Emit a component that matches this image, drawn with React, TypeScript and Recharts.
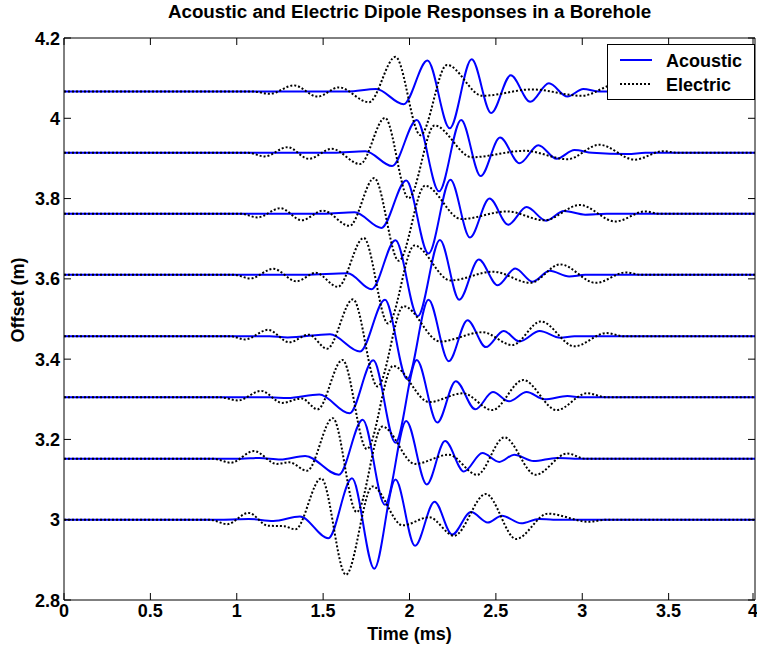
import { LineChart, Line, XAxis, YAxis, ReferenceLine, Legend } from 'recharts';

// receiver offsets (m), bottom trace first
const offsets = [3.0, 3.152, 3.305, 3.457, 3.61, 3.762, 3.914, 4.067];
const timeTicks = [0, 0.5, 1, 1.5, 2, 2.5, 3, 3.5, 4];
const offsetTicks = [2.8, 3, 3.2, 3.4, 3.6, 3.8, 4, 4.2];

// [time (ms), amplitude about the trace offset], read at the peaks / troughs
const acoustic1 = [[0, 0], [0.925, 0], [1.068, 0.002], [1.212, -0.003], [1.366, 0.008], [1.53, -0.046], [1.667, 0.103], [1.796, -0.122], [1.919, 0.1], [2.032, -0.065], [2.145, 0.045], [2.247, -0.037], [2.356, 0.019], [2.453, -0.007], [2.535, 0.01], [2.647, -0.009], [2.75, 0.002], [2.832, 0], [4, 0]];
const acoustic2 = [[0, 0], [1.027, 0], [1.13, 0.002], [1.253, -0.002], [1.396, 0.007], [1.591, -0.04], [1.729, 0.097], [1.858, -0.115], [1.981, 0.094], [2.1, -0.064], [2.206, 0.044], [2.315, -0.032], [2.422, 0.014], [2.52, -0.008], [2.606, 0.01], [2.719, -0.006], [2.852, 0.002], [2.955, 0], [4, 0]];
const acoustic3 = [[0, 0], [1.191, 0], [1.294, -0.002], [1.478, 0.007], [1.653, -0.04], [1.79, 0.092], [1.919, -0.113], [2.042, 0.093], [2.161, -0.063], [2.268, 0.04], [2.381, -0.03], [2.483, 0.013], [2.576, -0.01], [2.678, 0.013], [2.781, -0.005], [2.914, 0.003], [2.996, 0], [4, 0]];
const acoustic4 = [[0, 0], [1.191, 0], [1.294, -0.003], [1.54, 0.005], [1.714, -0.038], [1.858, 0.091], [1.987, -0.107], [2.11, 0.091], [2.227, -0.062], [2.336, 0.04], [2.442, -0.027], [2.545, 0.013], [2.637, -0.013], [2.754, 0.013], [2.873, -0.004], [2.955, 0], [4, 0]];
const acoustic5 = [[0, 0], [1.396, 0], [1.642, 0.004], [1.78, -0.036], [1.919, 0.086], [2.048, -0.103], [2.176, 0.087], [2.288, -0.062], [2.401, 0.038], [2.51, -0.026], [2.612, 0.016], [2.713, -0.017], [2.811, 0.01], [2.924, -0.004], [3.017, 0], [4, 0]];
const acoustic6 = [[0, 0], [1.499, 0], [1.683, 0.004], [1.837, -0.035], [1.981, 0.083], [2.11, -0.099], [2.237, 0.085], [2.35, -0.059], [2.463, 0.038], [2.571, -0.027], [2.678, 0.017], [2.791, -0.017], [2.894, 0.007], [3.017, -0.002], [3.14, 0], [4, 0]];
const acoustic7 = [[0, 0], [1.56, 0], [1.745, 0.004], [1.899, -0.033], [2.042, 0.082], [2.171, -0.096], [2.299, 0.082], [2.412, -0.058], [2.524, 0.038], [2.637, -0.026], [2.746, 0.019], [2.852, -0.015], [2.955, 0.007], [3.058, 0], [3.263, -0.003], [3.365, 0], [4, 0]];
const acoustic8 = [[0, 0], [1.642, 0], [1.807, 0.006], [1.966, -0.032], [2.104, 0.077], [2.233, -0.092], [2.36, 0.08], [2.473, -0.054], [2.586, 0.04], [2.699, -0.026], [2.807, 0.02], [2.914, -0.013], [3.006, 0.006], [3.099, 0], [4, 0]];

const electric1 = [[0, 0], [0.843, 0], [0.945, -0.011], [1.068, 0.017], [1.181, -0.015], [1.273, -0.016], [1.339, -0.024], [1.489, 0.103], [1.632, -0.137], [1.786, 0.083], [1.96, -0.014], [2.114, 0.006], [2.258, -0.04], [2.442, 0.064], [2.617, -0.048], [2.801, 0.015], [3.037, -0.005], [3.14, 0], [4, 0]];
const electric2 = [[0, 0], [0.863, 0], [0.966, -0.01], [1.099, 0.019], [1.232, -0.013], [1.304, -0.009], [1.407, -0.03], [1.556, 0.101], [1.694, -0.133], [1.843, 0.08], [2.032, -0.013], [2.227, 0.01], [2.391, -0.04], [2.549, 0.053], [2.729, -0.04], [2.914, 0.013], [3.017, 0], [4, 0]];
const electric3 = [[0, 0], [0.904, 0], [1.007, -0.008], [1.14, 0.016], [1.263, -0.014], [1.376, -0.003], [1.468, -0.03], [1.612, 0.093], [1.753, -0.129], [1.905, 0.078], [2.114, -0.012], [2.309, 0.01], [2.479, -0.032], [2.658, 0.043], [2.852, -0.032], [3.027, 0.01], [3.14, 0], [4, 0]];
const electric4 = [[0, 0], [0.966, 0], [1.048, -0.008], [1.181, 0.016], [1.304, -0.015], [1.417, 0.004], [1.523, -0.031], [1.673, 0.092], [1.815, -0.125], [1.966, 0.075], [2.176, -0.013], [2.422, 0.01], [2.596, -0.022], [2.76, 0.037], [2.955, -0.025], [3.14, 0.008], [3.242, 0], [4, 0]];
const electric5 = [[0, 0], [0.986, 0], [1.078, -0.009], [1.212, 0.015], [1.345, -0.016], [1.458, 0.005], [1.585, -0.03], [1.735, 0.092], [1.876, -0.121], [2.028, 0.073], [2.237, -0.014], [2.483, 0.008], [2.699, -0.02], [2.873, 0.026], [3.078, -0.02], [3.252, 0.006], [3.345, 0], [4, 0]];
const electric6 = [[0, 0], [1.027, 0], [1.119, -0.009], [1.253, 0.014], [1.376, -0.016], [1.499, 0.008], [1.653, -0.03], [1.796, 0.089], [1.938, -0.117], [2.09, 0.07], [2.299, -0.013], [2.565, 0.006], [2.781, -0.016], [2.986, 0.022], [3.191, -0.019], [3.365, 0.006], [3.447, 0], [4, 0]];
const electric7 = [[0, 0], [1.068, 0], [1.16, -0.009], [1.294, 0.014], [1.417, -0.015], [1.55, 0.01], [1.714, -0.028], [1.858, 0.087], [1.995, -0.113], [2.145, 0.068], [2.36, -0.011], [2.668, 0.005], [2.914, -0.016], [3.099, 0.02], [3.304, -0.017], [3.468, 0.004], [3.55, 0], [4, 0]];
const electric8 = [[0, 0], [1.089, 0], [1.191, -0.006], [1.331, 0.015], [1.468, -0.013], [1.591, 0.01], [1.765, -0.027], [1.919, 0.086], [2.063, -0.109], [2.217, 0.066], [2.422, -0.011], [2.709, 0.005], [2.996, -0.011], [3.201, 0.018], [3.417, -0.017], [3.53, 0], [4, 0]];

const acousticTraces = [acoustic1, acoustic2, acoustic3, acoustic4, acoustic5, acoustic6, acoustic7, acoustic8];
const electricTraces = [electric1, electric2, electric3, electric4, electric5, electric6, electric7, electric8];

const FONT = '"Liberation Sans", Arial, Helvetica, sans-serif';
const PLOT_W = 691;
const PLOT_H = 562;
const TICK = 7;

const toRows = (pts: number[][], base: number) => pts.map(([t, a]) => ({ t, y: base + a }));

function TimeTick(props: any) {
  const { x, y, payload } = props;
  return (
    <g>
      <line x1={x} x2={x} y1={y} y2={y - TICK} stroke="#000" />
      <line x1={x} x2={x} y1={y - PLOT_H} y2={y - PLOT_H + TICK} stroke="#000" />
      <text x={x} y={y + 17} textAnchor="middle" fontFamily={FONT} fontWeight="bold" fontSize={18} fill="#000">
        {payload.value}
      </text>
    </g>
  );
}

function OffsetTick(props: any) {
  const { x, y, payload } = props;
  return (
    <g>
      <line x1={x} x2={x + TICK} y1={y} y2={y} stroke="#000" />
      <line x1={x + PLOT_W - TICK} x2={x + PLOT_W} y1={y} y2={y} stroke="#000" />
      <text x={x - 4} y={y + 6.5} textAnchor="end" fontFamily={FONT} fontWeight="bold" fontSize={18} fill="#000">
        {payload.value}
      </text>
    </g>
  );
}

const renderLegend = () => (
  <svg width={148} height={56} style={{ display: 'block' }}>
    <rect x={0.5} y={0.5} width={147} height={55} fill="#fff" stroke="#000" />
    <line x1={13} x2={45} y1={16} y2={16} stroke="#0000ff" strokeWidth={2} />
    <text x={59} y={22.5} fontFamily={FONT} fontWeight="bold" fontSize={18}>Acoustic</text>
    <line x1={13} x2={45} y1={40} y2={40} stroke="#000" strokeWidth={2} strokeDasharray="2 2" />
    <text x={59} y={46.5} fontFamily={FONT} fontWeight="bold" fontSize={18}>Electric</text>
  </svg>
);

export default function App() {
  return (
    <div style={{ position: 'absolute', left: 0, top: 0, width: 757, height: 652, background: '#fff' }}>
      <div
        style={{
          position: 'absolute', left: 64, top: 0, width: PLOT_W, lineHeight: '24px',
          textAlign: 'center', fontFamily: FONT, fontWeight: 'bold', fontSize: 18.8, color: '#000',
        }}
      >
        Acoustic and Electric Dipole Responses in a Borehole
      </div>
      <LineChart width={757} height={652} margin={{ top: 38, right: 2, bottom: 0, left: 0 }}>
        <XAxis
          dataKey="t"
          type="number"
          domain={[0, 4]}
          ticks={timeTicks}
          allowDataOverflow
          height={52}
          tickSize={0}
          tickMargin={0}
          tickLine={false}
          axisLine={{ stroke: '#000' }}
          tick={TimeTick}
          label={{
            content: (p: any) => (
              <text x={p.viewBox.x + p.viewBox.width / 2} y={p.viewBox.y + 40} textAnchor="middle"
                fontFamily={FONT} fontWeight="bold" fontSize={18} fill="#000">
                Time (ms)
              </text>
            ),
          }}
        />
        <YAxis
          type="number"
          domain={[2.8, 4.2]}
          ticks={offsetTicks}
          allowDataOverflow
          width={64}
          tickSize={0}
          tickMargin={0}
          tickLine={false}
          axisLine={{ stroke: '#000' }}
          tick={OffsetTick}
          label={{
            content: () => (
              <text x={18} y={300} transform="rotate(-90 18 300)" textAnchor="middle" dominantBaseline="central"
                fontFamily={FONT} fontWeight="bold" fontSize={18} fill="#000">
                Offset (m)
              </text>
            ),
          }}
        />
        <ReferenceLine y={4.2} stroke="#000" />
        <ReferenceLine x={4} stroke="#000" />
        {acousticTraces.map((pts, i) => (
          <Line
            key={`ac-${i}`}
            data={toRows(pts, offsets[i])}
            dataKey="y"
            name="Acoustic"
            type="monotone"
            stroke="#0000ff"
            strokeWidth={2}
            dot={false}
            activeDot={false}
            isAnimationActive={false}
          />
        ))}
        {electricTraces.map((pts, i) => (
          <Line
            key={`el-${i}`}
            data={toRows(pts, offsets[i])}
            dataKey="y"
            name="Electric"
            type="monotone"
            stroke="#000"
            strokeWidth={2}
            strokeDasharray="2 2"
            dot={false}
            activeDot={false}
            isAnimationActive={false}
          />
        ))}
        <Legend
          layout="vertical"
          align="center"
          verticalAlign="middle"
          content={renderLegend}
          wrapperStyle={{ left: 607, top: 44, width: 148, height: 56 }}
        />
      </LineChart>
    </div>
  );
}
